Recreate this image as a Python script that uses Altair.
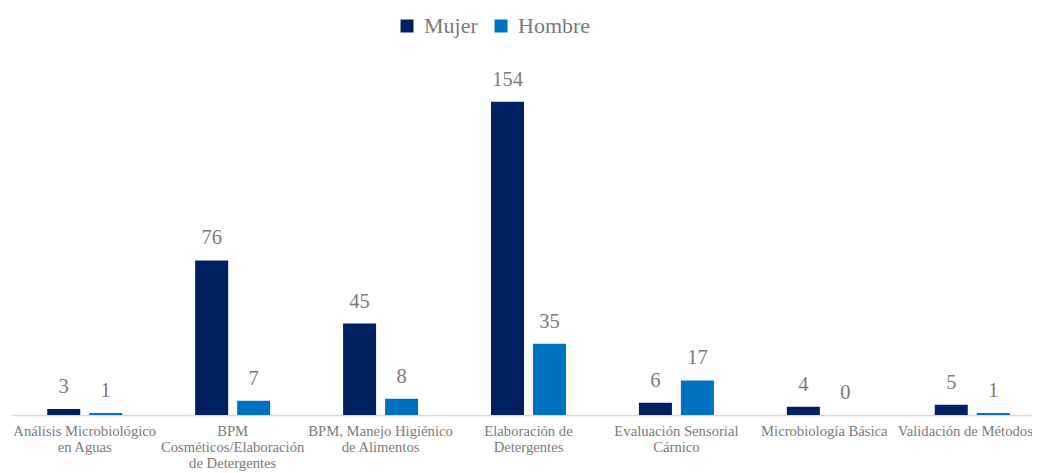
import altair as alt
import pandas as pd

categories = [
    "Análisis Microbiológico en Aguas",
    "BPM Cosméticos/Elaboración de Detergentes",
    "BPM, Manejo Higiénico de Alimentos",
    "Elaboración de Detergentes",
    "Evaluación Sensorial Cárnico",
    "Microbiología Básica",
    "Validación de Métodos",
]
label_lines = [
    ["Análisis Microbiológico", "en Aguas"],
    ["BPM", "Cosméticos/Elaboración", "de Detergentes"],
    ["BPM, Manejo Higiénico", "de Alimentos"],
    ["Elaboración de", "Detergentes"],
    ["Evaluación Sensorial", "Cárnico"],
    ["Microbiología Básica"],
    ["Validación de Métodos"],
]
series = ["Mujer", "Hombre"]
mujer = [3, 76, 45, 154, 6, 4, 5]
hombre = [1, 7, 8, 35, 17, 0, 1]
colors = ["#002060", "#0070C0"]

rows = []
for i, c in enumerate(categories):
    rows.append({"cat": c, "serie": "Mujer", "val": mujer[i]})
    rows.append({"cat": c, "serie": "Hombre", "val": hombre[i]})
df = pd.DataFrame(rows)

def js_list(lines):
    return "[" + ",".join("'" + l.replace("'", "\\'") + "'" for l in lines) + "]"

expr = "''"
for c, lines in reversed(list(zip(categories, label_lines))):
    expr = f"datum.value == '{c}' ? {js_list(lines)} : ({expr})"

FONT = "Times New Roman, Liberation Serif, DejaVu Serif, serif"
GRAY = "#7a7a7a"

x = alt.X("cat:N", sort=categories, title=None,
          scale=alt.Scale(paddingInner=0.493, paddingOuter=0.245, range=[0, 1035]),
          axis=alt.Axis(labelExpr=expr, labelAngle=0, ticks=False, domain=True,
                        domainColor="#d9d9d9", domainWidth=1.5,
                        labelFont=FONT, labelFontSize=14.67, labelColor=GRAY,
                        labelLineHeight=16.3, labelPadding=8, labelLimit=300,
                        labelOverlap=False,
                        labelOffset={"condition": {"test": f"datum.value == '{categories[-1]}'",
                                                   "value": -7}, "value": 0}))
xo = alt.XOffset("serie:N", sort=series, scale=alt.Scale(paddingInner=0.214, paddingOuter=0))
y = alt.Y("val:Q", scale=alt.Scale(domain=[0, 180]), axis=None)

base = alt.Chart(df)
bars = base.mark_bar().encode(
    x=x, xOffset=xo, y=y,
    color=alt.Color("serie:N", sort=series,
                    scale=alt.Scale(domain=series, range=colors),
                    legend=alt.Legend(title=None, orient="none", legendX=385, legendY=-34,
                                      direction="horizontal", symbolType="square",
                                      symbolSize=169, symbolStrokeWidth=0,
                                      labelFont=FONT, labelFontSize=22, labelColor=GRAY,
                                      labelOffset=6, columnPadding=12)),
)
texts = base.mark_text(baseline="alphabetic", dy=-16, font=FONT, fontSize=20.5, color=GRAY).encode(
    x=x, xOffset=xo, y=y, text="val:Q"
)

chart = (bars + texts).properties(
    width=1021, height=366,
    autosize=alt.AutoSizeParams(type="none"),
    padding={"left": 3, "top": 41, "right": 0, "bottom": 64},
).configure(font=FONT).configure_view(stroke=None)

chart.save("out.html", embed_options={"renderer": "svg", "actions": False})
